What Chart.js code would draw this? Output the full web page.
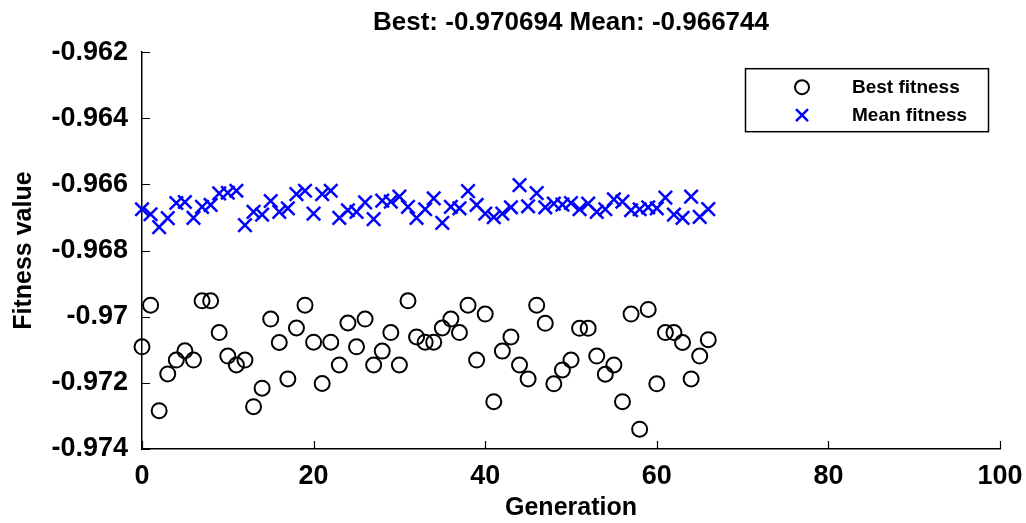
<!DOCTYPE html>
<html>
<head>
<meta charset="utf-8">
<title>Best / Mean fitness</title>
<script src="https://cdn.jsdelivr.net/npm/chart.js@4.4.1/dist/chart.umd.min.js"></script>
<style>
  html, body { margin: 0; padding: 0; background: #fff; }
  canvas { display: block; }
</style>
</head>
<body>
<canvas id="fitness_chart" width="1026" height="523"></canvas>
<script>
// ========== DATA ============
const generations = [
    0, 1, 2, 3, 4, 5, 6, 7, 8, 9, 10, 11, 12, 13, 14, 15, 16, 17, 18, 19,
    20, 21, 22, 23, 24, 25, 26, 27, 28, 29, 30, 31, 32, 33, 34, 35, 36, 37, 38, 39,
    40, 41, 42, 43, 44, 45, 46, 47, 48, 49, 50, 51, 52, 53, 54, 55, 56, 57, 58, 59,
    60, 61, 62, 63, 64, 65, 66
];

const bestFitness = [
    -0.97091, -0.96965, -0.97284, -0.97173, -0.97131, -0.97103, -0.97131, -0.96952, -0.96952, -0.97048,
    -0.97119, -0.97146, -0.97131, -0.97272, -0.97216, -0.97007, -0.97078, -0.97188, -0.97034, -0.96965,
    -0.97077, -0.97202, -0.97077, -0.97146, -0.97019, -0.97091, -0.97007, -0.97146, -0.97104, -0.97048,
    -0.97146, -0.96952, -0.97061, -0.97077, -0.97077, -0.97034, -0.97007, -0.97048, -0.96965, -0.97131,
    -0.96992, -0.97257, -0.97104, -0.97061, -0.97146, -0.97188, -0.96965, -0.97020, -0.97203, -0.97161,
    -0.97131, -0.97035, -0.97035, -0.97119, -0.97174, -0.97146, -0.97257, -0.96992, -0.97340, -0.96978,
    -0.97203, -0.97048, -0.97048, -0.97078, -0.97188, -0.97119, -0.970694
];

const meanFitness = [
    -0.96675, -0.96690, -0.96729, -0.96702, -0.96656, -0.96653, -0.96701, -0.96668, -0.96662, -0.96627,
    -0.96625, -0.96619, -0.96723, -0.96683, -0.96691, -0.96650, -0.96683, -0.96672, -0.96629, -0.96619,
    -0.96688, -0.96629, -0.96619, -0.96701, -0.96678, -0.96683, -0.96654, -0.96705, -0.96649, -0.96652,
    -0.96637, -0.96668, -0.96701, -0.96675, -0.96642, -0.96716, -0.96668, -0.96672, -0.96620, -0.96662,
    -0.96688, -0.96699, -0.96688, -0.96669, -0.96602, -0.96666, -0.96626, -0.96669, -0.96658, -0.96661,
    -0.96656, -0.96675, -0.96658, -0.96683, -0.96675, -0.96645, -0.96652, -0.96678, -0.96675, -0.96669,
    -0.96672, -0.96640, -0.96691, -0.96701, -0.96637, -0.96698, -0.966744
];

const xTicks = [0, 20, 40, 60, 80, 100];
const yTicks = [-0.962, -0.964, -0.966, -0.968, -0.970, -0.972, -0.974];

const titleText = 'Best: -0.970694 Mean: -0.966744';

// ========== PLUGINS ============
const FONT = '"Liberation Sans", Arial, Helvetica, sans-serif';

// ticks pointing inside the axes (MATLAB style)
const inwardTicks = {
    id: 'inwardTicks',
    afterDraw(chart) {
        const { ctx, chartArea, scales } = chart;
        ctx.save();
        ctx.strokeStyle = '#000';
        ctx.lineWidth = 1.2;
        ctx.beginPath();
        scales.x.ticks.forEach(t => {
            const px = Math.round(scales.x.getPixelForValue(t.value)) + 0.5;
            ctx.moveTo(px, chartArea.bottom);
            ctx.lineTo(px, chartArea.bottom - 8);
        });
        scales.y.ticks.forEach(t => {
            const py = Math.round(scales.y.getPixelForValue(t.value)) + 0.5;
            ctx.moveTo(chartArea.left, py);
            ctx.lineTo(chartArea.left + 8, py);
        });
        ctx.stroke();
        ctx.restore();
    }
};

// legend in a box, top right inside the axes
const boxLegend = {
    id: 'boxLegend',
    afterDraw(chart) {
        const { ctx, chartArea } = chart;
        const w = 243, h = 63;
        const left = chartArea.right - 12 - w;
        const top = chartArea.top + 16;

        ctx.save();
        ctx.fillStyle = '#fff';
        ctx.fillRect(left, top, w, h);
        ctx.strokeStyle = '#000';
        ctx.lineWidth = 1.5;
        ctx.strokeRect(left + 0.5, top + 0.5, w, h);

        ctx.font = 'bold 19px ' + FONT;
        ctx.textBaseline = 'middle';
        ctx.textAlign = 'left';

        chart.data.datasets.forEach((ds, i) => {
            const mx = left + 57;
            const my = top + 19 + i * 28;
            ctx.strokeStyle = ds.pointBorderColor;
            ctx.lineWidth = ds.pointBorderWidth;
            ctx.beginPath();
            if (ds.pointStyle === 'circle') {
                ctx.arc(mx, my, 7, 0, Math.PI * 2);
            } else {
                // косой крестик
                ctx.moveTo(mx - 6, my - 6);
                ctx.lineTo(mx + 6, my + 6);
                ctx.moveTo(mx + 6, my - 6);
                ctx.lineTo(mx - 6, my + 6);
            }
            ctx.stroke();

            ctx.fillStyle = '#000';
            ctx.fillText(ds.label, left + 107, my + 1);
        });
        ctx.restore();
    }
};

// ========== CHART ============
Chart.defaults.font.family = FONT;
Chart.defaults.color = '#000';

const toPoints = values => generations.map((g, i) => ({ x: g, y: values[i] }));

new Chart(document.getElementById('fitness_chart'), {
    type: 'scatter',
    data: {
        datasets: [
            {
                label: 'Best fitness',
                data: toPoints(bestFitness),
                pointStyle: 'circle',
                pointRadius: 7.5,
                pointBorderWidth: 2,
                pointBorderColor: '#000',
                pointBackgroundColor: 'rgba(0,0,0,0)',
                showLine: false,
                clip: false,
            },
            {
                label: 'Mean fitness',
                data: toPoints(meanFitness),
                pointStyle: 'crossRot',
                pointRadius: 9.5,
                pointBorderWidth: 2.5,
                pointBorderColor: '#0000ff',
                pointBackgroundColor: '#0000ff',
                showLine: false,
                clip: false,
            }
        ]
    },
    options: {
        responsive: false,
        animation: false,
        events: [],
        layout: {
            padding: { left: 0, right: 26, top: 0, bottom: 0 }
        },
        scales: {
            x: {
                type: 'linear',
                min: 0,
                max: 100,
                afterFit(scale) {
                    scale.height = 74;
                    // не даём подписи "100" сдвигать ось
                    scale.paddingLeft = 0;
                    scale.paddingRight = 0;
                },
                afterBuildTicks(scale) { scale.ticks = xTicks.map(v => ({ value: v })); },
                grid: { drawOnChartArea: false, drawTicks: false },
                border: { display: true, color: '#000', width: 1.5 },
                ticks: {
                    padding: 11,
                    font: { size: 27, weight: 'bold' },
                },
                title: {
                    display: true,
                    text: 'Generation',
                    font: { size: 25, weight: 'bold' },
                    padding: { top: 0, bottom: 0 },
                }
            },
            y: {
                type: 'linear',
                min: -0.974,
                max: -0.962,
                afterFit(scale) {
                    scale.width = 142;
                    scale.paddingTop = 0;
                    scale.paddingBottom = 0;
                },
                afterBuildTicks(scale) { scale.ticks = yTicks.map(v => ({ value: v })); },
                grid: { drawOnChartArea: false, drawTicks: false },
                border: { display: true, color: '#000', width: 1.5 },
                ticks: {
                    padding: 14,
                    font: { size: 27, weight: 'bold' },
                    callback: v => String(Number(v.toFixed(3))),
                },
                title: {
                    display: true,
                    text: 'Fitness value',
                    font: { size: 25, weight: 'bold' },
                    padding: { top: 9, bottom: 0 },
                }
            }
        },
        plugins: {
            legend: { display: false },
            tooltip: { enabled: false },
            title: {
                display: true,
                text: titleText,
                fullSize: false,
                font: { size: 26, weight: 'bold' },
                padding: { top: 7, bottom: 14 },
            }
        }
    },
    plugins: [inwardTicks, boxLegend],
});
</script>
</body>
</html>
